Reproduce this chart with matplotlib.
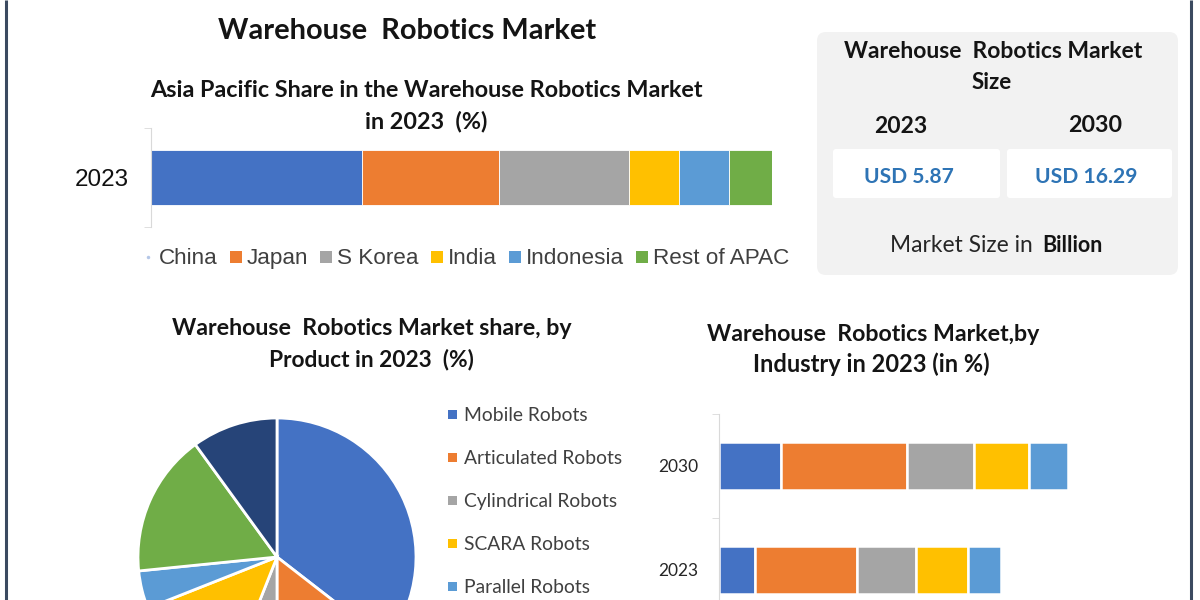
import matplotlib
matplotlib.use("Agg")
import numpy as np
import matplotlib.pyplot as plt
from matplotlib.patches import FancyBboxPatch, Rectangle
from matplotlib import font_manager

# ---------------- data ----------------
apac_regions = ["China", "Japan", "S Korea", "India", "Indonesia", "Rest of APAC"]
apac_share_2023 = [34, 22, 21, 8, 8, 7]

product_types = ["Mobile Robots", "Articulated Robots", "Cylindrical Robots",
                 "SCARA Robots", "Parallel Robots", "Cartesian Robots", "Others"]
product_share_2023 = [35.5, 14.5, 6.0, 13.0, 4.4, 16.6, 10.0]

industry_years = ["2023", "2030"]
industry_segments = ["Industry 1", "Industry 2", "Industry 3", "Industry 4", "Industry 5"]
industry_2023 = [10.4, 28.9, 17.1, 14.6, 9.6]
industry_2030 = [17.7, 36.0, 19.1, 15.7, 11.1]

market_years = ["2023", "2030"]
market_size_usd_bn = [5.87, 16.29]

# ---------------- style ----------------
office = ["#4472C4", "#ED7D31", "#A5A5A5", "#FFC000", "#5B9BD5", "#70AD47", "#264478"]
names = {f.name for f in font_manager.fontManager.ttflist}
TF = "Lato" if "Lato" in names else "DejaVu Sans"
NARROW = "Liberation Sans Narrow" if "Liberation Sans Narrow" in names else "Liberation Sans"
ARIAL = "Liberation Sans" if "Liberation Sans" in names else "DejaVu Sans"
DARK = "#141414"

W, H = 1200, 600
fig = plt.figure(figsize=(12, 6), dpi=100)
fig.patch.set_facecolor("white")
renderer = fig.canvas.get_renderer()


def px_rect(x0, y0, x1, y1):
    return [x0 / W, 1 - y1 / H, (x1 - x0) / W, (y1 - y0) / H]


ax0 = fig.add_axes([0, 0, 1, 1], zorder=0)
ax0.set_xlim(0, W)
ax0.set_ylim(H, 0)
ax0.axis("off")


def fit_text(x, y, s, width, family=TF, weight="bold", color=DARK, ha="center", base=14):
    t = ax0.text(x, y, s, fontsize=base, family=family, weight=weight, color=color,
                 ha=ha, va="baseline")
    w = t.get_window_extent(renderer).width
    t.set_fontsize(base * width / w)
    return t


# frame lines
for xv in (6, 1191):
    ax0.plot([xv, xv], [0, H], color="#3B4A60", lw=2.2, solid_capstyle="butt")

# ---------------- titles ----------------
fit_text(406.7, 39, "Warehouse  Robotics Market", 380)
fit_text(426, 97, "Asia Pacific Share in the Warehouse Robotics Market", 556)
fit_text(426.5, 128, "in 2023  (%)", 123)
fit_text(372, 335, "Warehouse  Robotics Market share, by", 401)
fit_text(371.5, 366, "Product in 2023  (%)", 207)
fit_text(873, 341, "Warehouse  Robotics Market,by", 334)
fit_text(871, 372, "Industry in 2023 (in %)", 238)

# ---------------- top stacked bar ----------------
axb = fig.add_axes(px_rect(151, 128, 772, 227), zorder=1)
axb.patch.set_alpha(0)
lefts = np.concatenate([[0], np.cumsum(apac_share_2023)[:-1]])
axb.barh([0] * len(apac_share_2023), apac_share_2023, left=lefts, height=0.55,
         color=office[:6], edgecolor="white", linewidth=0.6)
axb.set_xlim(0, sum(apac_share_2023))
axb.set_ylim(-0.5, 0.5)
for s in ("top", "right", "bottom"):
    axb.spines[s].set_visible(False)
axb.spines["left"].set_color("#D9D9D9")
axb.set_xticks([])
axb.set_yticks([0], labels=["2023"])
axb.set_yticks([-0.5, 0.5], minor=True)
axb.tick_params(axis="y", which="major", length=0, pad=16)
axb.tick_params(axis="y", which="minor", length=5, color="#D9D9D9")
for lab in axb.get_yticklabels():
    lab.set_fontfamily(ARIAL)
    lab.set_fontsize(17.5)
    lab.set_color("#111111")

# top legend (manual row)
ltexts = [ax0.text(0, 264, r, fontsize=14, family=NARROW, color="#404040",
                   ha="left", va="baseline") for r in apac_regions]
ws = [t.get_window_extent(renderer).width for t in ltexts]
k = 486 / sum(ws)
for t in ltexts:
    t.set_fontsize(14 * k)
ws = [t.get_window_extent(renderer).width for t in ltexts]
x = 143
for i, (t, c) in enumerate(zip(ltexts, office[:6])):
    if i == 0:
        ax0.plot(x + 5, 257, "o", ms=2.5, color="#B4C7E7", mec="none")
        t.set_x(x + 16)
    else:
        ax0.add_patch(Rectangle((x, 251), 12, 12, color=c, lw=0))
        t.set_x(x + 17)
    x = t.get_position()[0] + ws[i] + 12

# ---------------- market size box ----------------
ax0.add_patch(FancyBboxPatch((817, 32), 361, 243, boxstyle="round,pad=0,rounding_size=9",
                             fc="#F2F2F2", ec="none", zorder=0.5))
ax0.add_patch(FancyBboxPatch((833, 149), 167, 49, boxstyle="round,pad=0,rounding_size=3",
                             fc="white", ec="none", zorder=0.6))
ax0.add_patch(FancyBboxPatch((1007, 149), 165, 49, boxstyle="round,pad=0,rounding_size=3",
                             fc="white", ec="none", zorder=0.6))
fit_text(993, 58, "Warehouse  Robotics Market", 300)
fit_text(992, 89, "Size", 40)
fit_text(900.5, 133, market_years[0], 53)
fit_text(1095, 132, market_years[1], 54)
fit_text(909, 183, f"USD {market_size_usd_bn[0]:.2f}", 90, color="#2E74B5")
fit_text(1086.5, 183, f"USD {market_size_usd_bn[1]:.2f}", 103, color="#2E74B5")
fit_text(1033, 252, "Market Size in", 143, weight="normal", color="#262626", ha="right")
fit_text(1042, 252, "Billion", 61, ha="left")

# ---------------- pie ----------------
axp = fig.add_axes(px_rect(138, 418, 416, 696), zorder=1)
wedges, _ = axp.pie(product_share_2023, colors=office, startangle=90, counterclock=False,
                    wedgeprops=dict(edgecolor="white", linewidth=2))
for w_ in wedges:
    w_.set_clip_on(False)
axp.set_xlim(-1, 1)
axp.set_ylim(-1, 1)
axp.set_aspect("equal")

# pie legend (only the rows that fall inside the canvas are visible in the reference)
ptexts = []
for i, (lab, c) in enumerate(zip(product_types, office)):
    yb = 421 + 43 * i
    if yb > H - 4:
        break
    ax0.add_patch(Rectangle((448, yb - 11), 9, 9, color=c, lw=0))
    ptexts.append(ax0.text(464, yb, lab, fontsize=12, family=TF, color="#404040",
                           ha="left", va="baseline"))
wref = ptexts[1].get_window_extent(renderer).width
for t in ptexts:
    t.set_fontsize(12 * 158 / wref)

# ---------------- industry stacked bars ----------------
axi = fig.add_axes(px_rect(719, 414, 1069, 622), zorder=1)
axi.patch.set_alpha(0)
for yi, vals in enumerate([industry_2023, industry_2030]):
    l = np.concatenate([[0], np.cumsum(vals)[:-1]])
    axi.barh([yi] * len(vals), vals, left=l, height=0.47, color=office[:5],
             edgecolor="white", linewidth=1.8)
axi.set_xlim(0, 100)
axi.set_ylim(-0.5, 1.5)
for s in ("top", "right", "bottom"):
    axi.spines[s].set_visible(False)
axi.spines["left"].set_color("#D9D9D9")
axi.set_xticks([])
axi.set_yticks([0, 1], labels=industry_years)
axi.set_yticks([-0.5, 0.5, 1.5], minor=True)
axi.tick_params(axis="y", which="major", length=0, pad=15)
axi.tick_params(axis="y", which="minor", length=5, color="#D9D9D9")
for lab in axi.get_yticklabels():
    lab.set_fontfamily(TF)
    lab.set_fontsize(12.5)
    lab.set_color("#262626")

fig.savefig("out.png", dpi=100)
